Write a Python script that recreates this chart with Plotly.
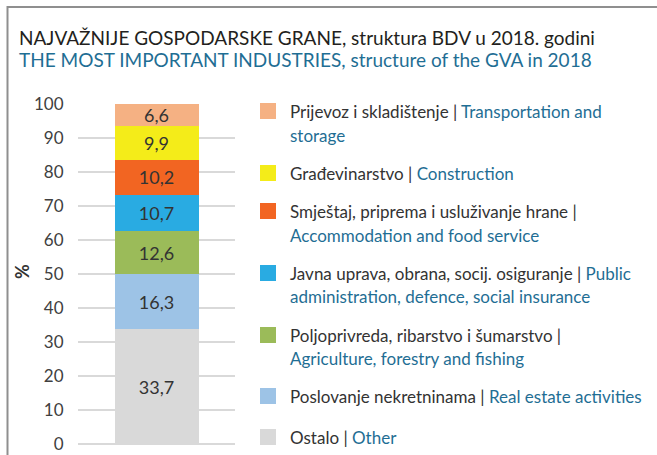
import plotly.graph_objects as go

# GVA structure 2018, shares in %
sectors_hr = [
    "Ostalo",
    "Poslovanje nekretninama",
    "Poljoprivreda, ribarstvo i šumarstvo",
    "Javna uprava, obrana, socij. osiguranje",
    "Smještaj, priprema i usluživanje hrane",
    "Građevinarstvo",
    "Prijevoz i skladištenje",
]
sectors_en = [
    "Other",
    "Real estate activities",
    "Agriculture, forestry and fishing",
    "Public administration, defence, social insurance",
    "Accommodation and food service",
    "Construction",
    "Transportation and storage",
]
shares = [33.7, 16.3, 12.6, 10.7, 10.2, 9.9, 6.6]
colors = ["#d9d9d9", "#9dc3e6", "#9bbb59", "#29abe2", "#f26522", "#f4ec19", "#f5b183"]
y_ticks = [0, 10, 20, 30, 40, 50, 60, 70, 80, 90, 100]

W, H = 657, 455
L, R, T, B = 78, 235, 104, 444  # plot area in pixels
FONT = "Lato"
DARK = "#333333"
BLUE = "#1f6e94"


def px(x):
    return (x - L) / (R - L)


def py(y):
    return (B - y) / (B - T)


fig = go.Figure()
for name_hr, val, col in zip(sectors_hr, shares, colors):
    fig.add_trace(go.Bar(
        x=["2018"], y=[val], name=name_hr,
        marker=dict(color=col, line=dict(width=0)),
        texttemplate="%{y:.1f}", textposition="inside",
        insidetextanchor="middle", constraintext="none",
        textfont=dict(family=FONT, size=18, color=DARK),
        showlegend=False,
    ))

annotations = [
    dict(x=px(17), y=py(37), xref="paper", yref="paper", xanchor="left", yanchor="middle",
         showarrow=False, align="left",
         text="NAJVAŽNIJE GOSPODARSKE GRANE, struktura BDV u 2018. godini",
         font=dict(family=FONT, size=19, color="#231f20")),
    dict(x=px(17), y=py(59), xref="paper", yref="paper", xanchor="left", yanchor="middle",
         showarrow=False, align="left",
         text="THE MOST IMPORTANT INDUSTRIES, structure of the GVA in 2018",
         font=dict(family=FONT, size=19, color=BLUE)),
    dict(x=px(22), y=py(272), xref="paper", yref="paper", xanchor="center", yanchor="middle",
         showarrow=False, text="<b>%</b>", textangle=-90,
         font=dict(family=FONT, size=18, color=DARK)),
]

# legend rows, top to bottom: colour index, swatch centre and text lines (pixel y)
legend_rows = [
    (6, 111, [("Prijevoz i skladištenje | ", "Transportation and"), ("", "storage")], [111, 135]),
    (5, 173, [("Građevinarstvo | ", "Construction")], [173]),
    (4, 211, [("Smještaj, priprema i usluživanje hrane |", ""), ("", "Accommodation and food service")], [211, 235]),
    (3, 273, [("Javna uprava, obrana, socij. osiguranje | ", "Public"), ("", "administration, defence, social insurance")], [273, 296]),
    (2, 335, [("Poljoprivreda, ribarstvo i šumarstvo |", ""), ("", "Agriculture, forestry and fishing")], [335, 358]),
    (1, 396, [("Poslovanje nekretninama | ", "Real estate activities")], [396]),
    (0, 437, [("Ostalo | ", "Other")], [437]),
]

# thin frame along the top and left edges
shapes = [
    dict(type="rect", xref="paper", yref="paper",
         x0=px(7), x1=px(W), y0=py(8), y1=py(6),
         fillcolor="#8f8f8f", line=dict(width=0), layer="above"),
    dict(type="rect", xref="paper", yref="paper",
         x0=px(6.5), x1=px(8.5), y0=py(H), y1=py(6),
         fillcolor="#8f8f8f", line=dict(width=0), layer="above"),
]

for idx, yc, lines, ys in legend_rows:
    shapes.append(dict(type="rect", xref="paper", yref="paper",
                       x0=px(260), x1=px(276), y0=py(yc - 8), y1=py(yc + 8),
                       fillcolor=colors[idx], line=dict(width=0)))
    for (hr, en), ly in zip(lines, ys):
        txt = ""
        if hr:
            txt += f"<span style='color:{DARK}'>{hr}</span>"
        if en:
            txt += f"<span style='color:{BLUE}'>{en}</span>"
        annotations.append(dict(x=px(288), y=py(ly), xref="paper", yref="paper",
                                xanchor="left", yanchor="middle", showarrow=False,
                                align="left", text=txt,
                                font=dict(family=FONT, size=17, color=DARK)))

fig.update_layout(
    width=W, height=H,
    margin=dict(l=L, r=W - R, t=T, b=H - B, pad=0, autoexpand=False),
    paper_bgcolor="white", plot_bgcolor="white",
    barmode="stack", bargap=0.465,
    separators=", ",
    font=dict(family=FONT, color=DARK),
    xaxis=dict(visible=False, fixedrange=True, automargin=False),
    yaxis=dict(range=[0, 100], tickvals=y_ticks, showgrid=True, automargin=False,
               gridcolor="#d9d9d9", gridwidth=1.5, zeroline=True,
               zerolinecolor="#d9d9d9", zerolinewidth=1.5,
               ticks="outside", ticklen=10, tickcolor="rgba(0,0,0,0)",
               tickfont=dict(family=FONT, size=17, color="#404040"),
               showline=False, fixedrange=True),
    shapes=shapes,
    annotations=annotations,
)

fig.write_html("out.html", config={"displayModeBar": False})
